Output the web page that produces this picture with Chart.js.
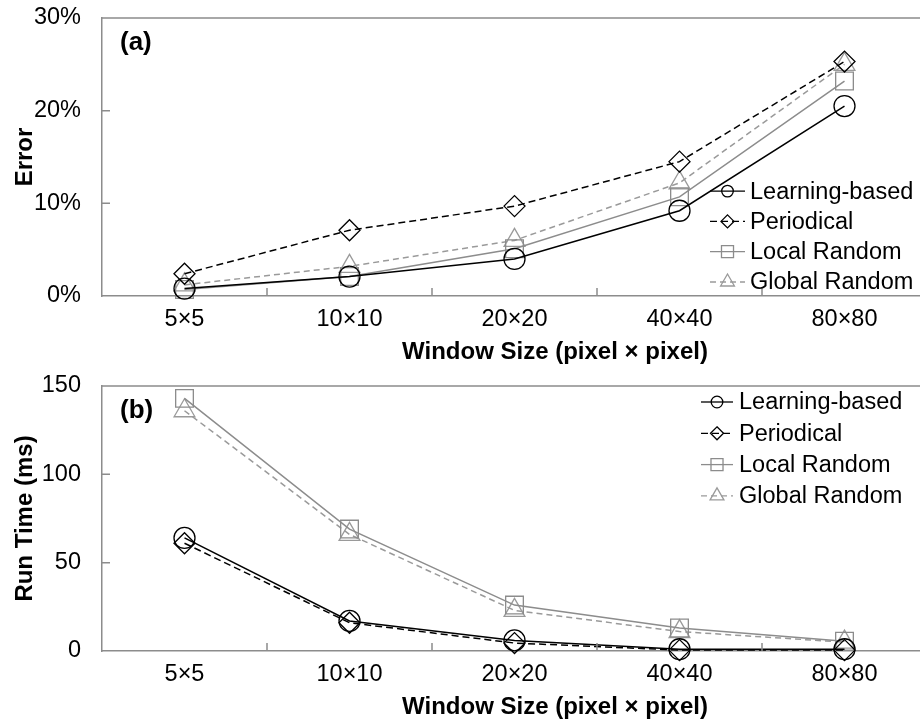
<!DOCTYPE html>
<html>
<head>
<meta charset="utf-8">
<script src="https://cdn.jsdelivr.net/npm/chart.js@4/dist/chart.umd.min.js"></script>
<style>
  html, body { margin: 0; padding: 0; background: #fff; overflow: hidden; }
  #wrap { position: relative; width: 920px; height: 723px; overflow: hidden; }
  #ca { position: absolute; left: 0; top: 0; }
  #cb { position: absolute; left: 0; top: 366px; }
</style>
</head>
<body>
<div id="wrap">
  <canvas id="ca" width="928" height="366"></canvas>
  <canvas id="cb" width="928" height="357"></canvas>
</div>
<script>
// ---- data ----
const categories = ['5×5', '10×10', '20×20', '40×40', '80×80'];
const seriesNames = ['Learning-based', 'Periodical', 'Local Random', 'Global Random'];

const errorLearning   = [0.8, 2.1, 4.0, 9.2, 20.5];
const errorPeriodical = [2.4, 7.1, 9.7, 14.5, 25.3];
const errorLocal      = [0.7, 2.1, 5.1, 10.7, 23.2];
const errorGlobal     = [1.2, 3.2, 6.0, 12.2, 25.0];
const errorTicks      = [0, 10, 20, 30];

const timeLearning    = [64, 17, 6, 1, 1];
const timePeriodical  = [61, 16, 4.5, 0.5, 0.5];
const timeLocal       = [143, 69, 26, 13, 5.5];
const timeGlobal      = [136, 66, 23, 11, 5];
const timeTicks       = [0, 50, 100, 150];

const xTitle = 'Window Size (pixel × pixel)';

const FONT = "'Liberation Sans', Arial, sans-serif";
const AXIS = '#8c8c8c';

function styleFor(i) {
  return [
    { color: '#000000', dash: [], point: 'circle', r: 10.5, lr: 5.8 },
    { color: '#000000', dash: [7, 4], point: 'rectRot', r: 10.5, lr: 6.5 },
    { color: '#8c8c8c', dash: [], point: 'rect', r: 12.5, lr: 8.5 },
    { color: '#9a9a9a', dash: [6, 4], point: 'triangle', r: 12, lr: 8 }
  ][i];
}

function makeDatasets(values) {
  return values.map((v, i) => {
    const s = styleFor(i);
    return {
      label: seriesNames[i],
      data: v,
      borderColor: s.color,
      borderWidth: 1.5,
      borderDash: s.dash,
      pointStyle: s.point,
      pointRadius: s.r,
      pointHoverRadius: s.r,
      pointBorderColor: s.color,
      pointBackgroundColor: 'rgba(0,0,0,0)',
      pointBorderWidth: 1.3,
      fill: false,
      tension: 0,
      clip: false,
      _legendRadius: s.lr
    };
  });
}

function drawMarker(ctx, style, r, x, y) {
  ctx.beginPath();
  if (style === 'circle') {
    ctx.arc(x, y, r, 0, Math.PI * 2);
  } else if (style === 'rectRot') {
    ctx.moveTo(x, y - r); ctx.lineTo(x + r, y); ctx.lineTo(x, y + r); ctx.lineTo(x - r, y); ctx.closePath();
  } else if (style === 'rect') {
    const s = r * Math.SQRT1_2;
    ctx.rect(x - s, y - s, 2 * s, 2 * s);
  } else if (style === 'triangle') {
    ctx.moveTo(x, y - r);
    ctx.lineTo(x + r * 0.866, y + r * 0.5);
    ctx.lineTo(x - r * 0.866, y + r * 0.5);
    ctx.closePath();
  }
  ctx.stroke();
}

const decorPlugin = {
  id: 'decor',
  afterDraw(chart, args, opts) {
    const { ctx, chartArea: a, scales } = chart;
    const x = scales.x, y = scales.y;
    ctx.save();
    ctx.strokeStyle = AXIS;
    ctx.lineWidth = 1.5;
    ctx.setLineDash([]);
    ctx.beginPath();
    ctx.moveTo(a.left, a.top);
    ctx.lineTo(a.right, a.top);
    y.ticks.forEach(t => {
      const py = y.getPixelForValue(t.value);
      if (py < a.bottom - 1 && py > a.top + 1) {
        ctx.moveTo(a.left, py);
        ctx.lineTo(a.left + 8, py);
      }
    });
    for (let i = 0; i < categories.length - 1; i++) {
      const px = (x.getPixelForValue(i) + x.getPixelForValue(i + 1)) / 2;
      ctx.moveTo(px, a.bottom);
      ctx.lineTo(px, a.bottom - 8);
    }
    ctx.stroke();

    ctx.fillStyle = '#000';
    ctx.font = 'bold 26px ' + FONT;
    ctx.textBaseline = 'middle';
    ctx.textAlign = 'left';
    ctx.fillText(opts.panel, a.left + 18, a.top + 25);

    ctx.font = 'bold 24px ' + FONT;
    ctx.textAlign = 'center';
    ctx.textBaseline = 'alphabetic';
    ctx.fillText(xTitle, opts.xTitleX, a.bottom + opts.xTitleBase);

    ctx.save();
    ctx.translate(opts.yTitleX, (a.top + a.bottom) / 2);
    ctx.rotate(-Math.PI / 2);
    ctx.font = 'bold 24px ' + FONT;
    ctx.textAlign = 'center';
    ctx.textBaseline = 'middle';
    ctx.fillText(opts.yTitle, 0, 0);
    ctx.restore();

    const L = opts.legend;
    const textX = a.right - L.fromRight;
    const n = chart.data.datasets.length;
    chart.data.datasets.forEach((ds, i) => {
      const rowY = L.anchor === 'bottom'
        ? a.bottom - L.offset - (n - 1 - i) * L.spacing
        : a.top + L.offset + i * L.spacing;
      ctx.strokeStyle = ds.borderColor;
      ctx.lineWidth = 1.3;
      ctx.setLineDash(ds.borderDash);
      ctx.beginPath();
      ctx.moveTo(textX - L.lineLen - L.gap, rowY);
      ctx.lineTo(textX - L.gap, rowY);
      ctx.stroke();
      ctx.setLineDash([]);
      drawMarker(ctx, ds.pointStyle, ds._legendRadius, textX - L.gap - L.lineLen / 2, rowY);
      ctx.fillStyle = '#000';
      ctx.font = '23.5px ' + FONT;
      ctx.textAlign = 'left';
      ctx.textBaseline = 'middle';
      ctx.fillText(ds.label, textX, rowY + 1);
    });
    ctx.restore();
  }
};

function makeChart(id, datasets, ticksArr, fmt, o) {
  return new Chart(document.getElementById(id), {
    type: 'line',
    data: { labels: categories, datasets },
    options: {
      responsive: false,
      animation: false,
      devicePixelRatio: 1,
      layout: { autoPadding: false, padding: { top: o.padTop, right: 1, bottom: o.padBottom, left: 0 } },
      plugins: {
        legend: { display: false },
        tooltip: { enabled: false },
        decor: o
      },
      scales: {
        x: {
          type: 'category',
          offset: true,
          grid: { display: false, drawTicks: false },
          border: { display: true, color: AXIS, width: 1.5 },
          ticks: { color: '#000', font: { family: FONT, size: 23.5 }, padding: 9, maxRotation: 0, autoSkip: false },
          title: { display: false },
          afterFit(scale) { scale.height = 70; scale.paddingLeft = 0; scale.paddingRight = 0; }
        },
        y: {
          min: ticksArr[0], max: ticksArr[ticksArr.length - 1],
          grid: { display: false, drawTicks: false },
          border: { display: true, color: AXIS, width: 1.5 },
          ticks: { stepSize: ticksArr[1] - ticksArr[0], color: '#000', font: { family: FONT, size: 23.5 }, padding: 21,
                   callback: fmt },
          title: { display: false },
          afterFit(scale) { scale.width = 102; scale.paddingTop = 0; scale.paddingBottom = 0; }
        }
      }
    },
    plugins: [decorPlugin]
  });
}

makeChart('ca',
  makeDatasets([errorLearning, errorPeriodical, errorLocal, errorGlobal]),
  errorTicks, v => v + '%',
  { panel: '(a)', yTitle: 'Error', yTitleX: 25, xTitleX: 555, xTitleBase: 63,
    padTop: 18, padBottom: 0,
    legend: { anchor: 'bottom', offset: 14, spacing: 30.3, fromRight: 177, lineLen: 35, gap: 5 } });

makeChart('cb',
  makeDatasets([timeLearning, timePeriodical, timeLocal, timeGlobal]),
  timeTicks, v => String(v),
  { panel: '(b)', yTitle: 'Run Time (ms)', yTitleX: 25, xTitleX: 555, xTitleBase: 63,
    padTop: 20, padBottom: 2,
    legend: { anchor: 'top', offset: 16, spacing: 31.3, fromRight: 188, lineLen: 32, gap: 6 } });
</script>
</body>
</html>
